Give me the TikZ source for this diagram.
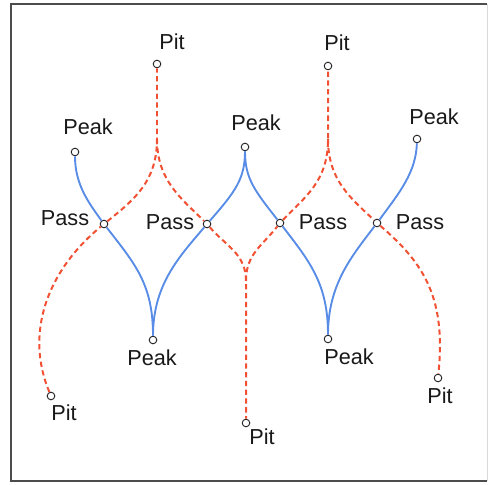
\documentclass[tikz,border=0pt]{standalone}
\usepackage{fontspec}
\setmainfont{Liberation Sans}
\usepackage{tikz}
\usetikzlibrary{positioning}
\definecolor{ridgeblue}{RGB}{88,140,230}
\definecolor{valleyred}{RGB}{242,80,50}

\begin{document}
\begin{tikzpicture}[x=0.03cm,y=0.03cm,
  pt/.style={circle,draw=black!85,fill=white,line width=0.8pt,inner sep=0pt,minimum size=6.5pt},
  lbl/.style={font=\fontsize{18.5}{22}\selectfont,text=black!90,inner sep=0pt},
  ridge/.style={ridgeblue,line width=1.6pt},
  valley/.style={valleyred,line width=1.7pt,dash pattern=on 4.5pt off 3pt}]
  \useasboundingbox (0,0) rectangle (489,484); % 画像全体の大きさ
  \draw[black!70,line width=1.2pt] (487,480) -- (11,480) -- (11,3) -- (487,3); % 外枠（左・上・下）
  \draw[black!15,line width=0.8pt] (487,3) -- (487,480); % 外枠（右）は薄い

  % 特異点（Pit, Peak, Pass）を表す小さな白丸
  \node[pt] (pitT1) at (157,420) {};
  \node[pt] (pitT2) at (328,418) {};
  \node[pt] (peakT1) at (75,332) {};
  \node[pt] (peakT2) at (245,337) {};
  \node[pt] (peakT3) at (417,345) {};
  \node[pt] (pass1) at (104,260) {};
  \node[pt] (pass2) at (207,260) {};
  \node[pt] (pass3) at (280,261) {};
  \node[pt] (pass4) at (377,261) {};
  \node[pt] (peakB1) at (153,144) {};
  \node[pt] (peakB2) at (328,145) {};
  \node[pt] (pitB1) at (51,88) {};
  \node[pt] (pitB2) at (246,61) {};
  \node[pt] (pitB3) at (438,106) {};

  % 谷線が合流する尖点
  \coordinate (cuspT1) at (157,345);
  \coordinate (cuspT2) at (328,345);
  \coordinate (cuspB2) at (246,203);

  % 尾根線（青の実線）：Peak から Pass を通って Peak へ
  \draw[ridge] (peakT1) .. controls (75,300) and (88,282) .. (pass1)
    .. controls (135,220) and (153,200) .. (peakB1);
  \draw[ridge] (peakB1) .. controls (153,200) and (180,228) .. (pass2)
    .. controls (235,292) and (245,305) .. (peakT2);
  \draw[ridge] (peakT2) .. controls (245,305) and (255,293) .. (pass3)
    .. controls (310,222) and (328,200) .. (peakB2);
  \draw[ridge] (peakB2) .. controls (328,200) and (352,228) .. (pass4)
    .. controls (400,292) and (416,312) .. (peakT3);

  % 谷線（赤の破線）：Pit から Pass を通って Pit へ
  \draw[valley] (pitB1) .. controls (25,150) and (46,212) .. (pass1)
    .. controls (135,285) and (157,303) .. (cuspT1) -- (pitT1);
  \draw[valley] (cuspT1) .. controls (157,303) and (182,285) .. (pass2)
    .. controls (226,238) and (246,230) .. (cuspB2) -- (pitB2);
  \draw[valley] (cuspB2) .. controls (246,230) and (262,238) .. (pass3)
    .. controls (306,288) and (328,303) .. (cuspT2) -- (pitT2);
  \draw[valley] (cuspT2) .. controls (328,303) and (352,285) .. (pass4)
    .. controls (425,220) and (446,185) .. (pitB3);

  % ラベル
  \node[lbl] (pitT1txt) at (172,442) {Pit};
  \node[lbl] (pitT2txt) at (337,441) {Pit};
  \node[lbl] (peakT1txt) at (88,357) {Peak};
  \node[lbl] (peakT2txt) at (256,361) {Peak};
  \node[lbl] (peakT3txt) at (434,367) {Peak};
  \node[lbl] (pass1txt) at (65,266) {Pass};
  \node[lbl] (pass2txt) at (170,262) {Pass};
  \node[lbl] (pass3txt) at (323,262) {Pass};
  \node[lbl] (pass4txt) at (420,262) {Pass};
  \node[lbl] (peakB1txt) at (152,126) {Peak};
  \node[lbl] (peakB2txt) at (349,127) {Peak};
  \node[lbl] (pitB1txt) at (64,71) {Pit};
  \node[lbl] (pitB2txt) at (262,47) {Pit};
  \node[lbl] (pitB3txt) at (440,88) {Pit};
\end{tikzpicture}
\end{document}
